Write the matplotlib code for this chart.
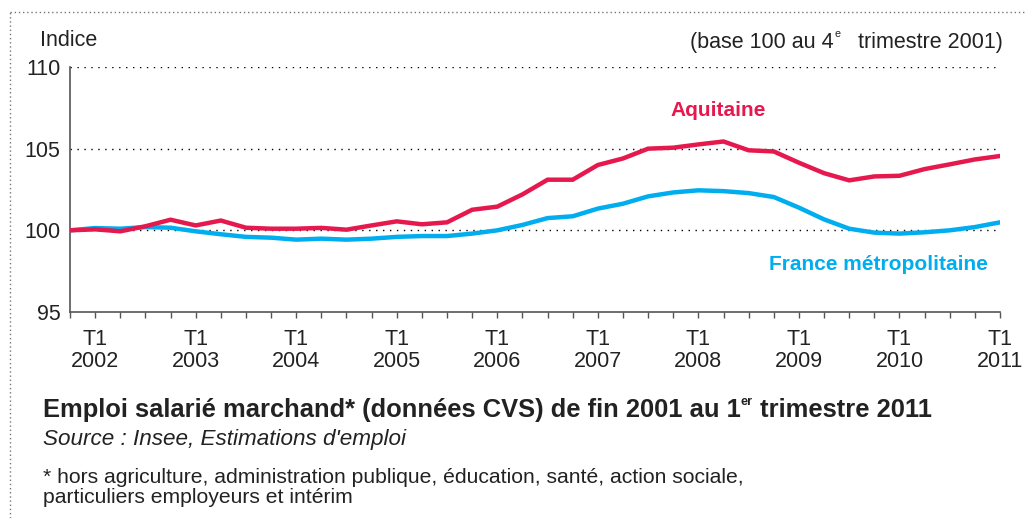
import matplotlib.pyplot as plt
from matplotlib.lines import Line2D

plt.rcParams["font.family"] = ["Liberation Sans", "DejaVu Sans"]

# trimestres : T4 2001 (base 100) a T1 2011
quarters = list(range(38))
aquitaine = [
    100.0, 100.06, 99.94, 100.25, 100.65, 100.3, 100.6, 100.16, 100.1, 100.1,
    100.15, 100.04, 100.3, 100.55, 100.37, 100.49, 101.26, 101.45, 102.2, 103.1,
    103.1, 104.0, 104.4, 105.0, 105.06, 105.26, 105.44, 104.9, 104.83, 104.14,
    103.5, 103.06, 103.3, 103.34, 103.75, 104.04, 104.34, 104.55,
]
france = [
    100.0, 100.14, 100.1, 100.2, 100.16, 99.94, 99.76, 99.6, 99.55, 99.43,
    99.49, 99.43, 99.49, 99.6, 99.65, 99.65, 99.8, 100.0, 100.33, 100.75,
    100.86, 101.33, 101.63, 102.08, 102.32, 102.45, 102.4, 102.28, 102.04, 101.39,
    100.67, 100.1, 99.86, 99.8, 99.88, 100.0, 100.2, 100.49,
]
years = ["2002", "2003", "2004", "2005", "2006", "2007", "2008", "2009", "2010", "2011"]
yticks = [95, 100, 105, 110]
footnote = [
    "* hors agriculture, administration publique, éducation, santé, action sociale,",
    "particuliers employeurs et intérim",
]

RED = "#E5194E"
BLUE = "#00AEEF"
TXT = "#222222"

fig = plt.figure(figsize=(10.27, 5.18), dpi=100)
renderer = fig.canvas.get_renderer()
ax = fig.add_axes([70 / 1027, 1 - 312 / 518, 930 / 1027, 245 / 518])


def sup_text(x, y, parts, align, **kw):
    """Texte avec exposant : parts = [(texte, taille, decalage_y_px), ...]"""
    size_main = kw.pop("fontsize")
    widths = []
    for s, fs, _ in parts:
        t = fig.text(0, 0, s, fontsize=size_main * fs, **kw)
        widths.append(t.get_window_extent(renderer).width)
        t.remove()
    W, H = fig.bbox.width, fig.bbox.height
    x0 = x * W - (sum(widths) if align == "right" else 0)
    for (s, fs, dy), w in zip(parts, widths):
        fig.text(x0 / W, y + dy / H, s, fontsize=size_main * fs, ha="left",
                 va="baseline", **kw)
        x0 += w


for y in yticks[1:]:
    ax.axhline(y, color="black", lw=1, ls=(0, (1, 4)), zorder=1)

ax.plot(quarters, france, color=BLUE, lw=3.2, solid_joinstyle="miter", zorder=3)
ax.plot(quarters, aquitaine, color=RED, lw=3.2, solid_joinstyle="miter", zorder=4)

ax.set_xlim(0, 37)
ax.set_ylim(95, 110)
ax.set_yticks(yticks)
ax.set_yticklabels([str(v) for v in yticks], fontsize=15.5, color=TXT)
ax.tick_params(axis="y", length=0, pad=7)
ax.set_xticks(quarters)
ax.set_xticklabels([])
ax.tick_params(axis="x", length=4, width=1, color="#555555", direction="out")
for s in ["top", "right"]:
    ax.spines[s].set_visible(False)
for s in ["left", "bottom"]:
    ax.spines[s].set_color("#555555")
    ax.spines[s].set_linewidth(1.2)

for k, yr in enumerate(years):
    xq = 1 + 4 * k
    ax.text(xq, -0.07, "T1\n" + yr, transform=ax.get_xaxis_transform(),
            ha="center", va="top", fontsize=15.5, color=TXT, linespacing=1.05,
            clip_on=False)

ax.text(0.697, 0.824, "Aquitaine", transform=ax.transAxes, ha="center",
        va="center", fontsize=15, fontweight="bold", color=RED)
ax.text(0.987, 0.192, "France métropolitaine", transform=ax.transAxes, ha="right",
        va="center", fontsize=15, fontweight="bold", color=BLUE)

fig.text(40 / 1027, 1 - 40 / 518, "Indice", ha="left", va="center",
         fontsize=15.5, color=TXT)
sup_text(1003 / 1027, 1 - 48 / 518,
         [("(base 100 au 4", 1, 0), ("e", 0.5, 11), ("   trimestre 2001)", 1, 0)],
         "right", fontsize=15.5, color=TXT)

sup_text(43 / 1027, 1 - 417 / 518,
         [("Emploi salarié marchand* (données CVS) de fin 2001 au 1", 1, 0),
          ("er", 0.5, 12), (" trimestre 2011", 1, 0)],
         "left", fontsize=18.4, fontweight="bold", color=TXT)
fig.text(43 / 1027, 1 - 445 / 518, "Source : Insee, Estimations d'emploi",
         ha="left", va="baseline", fontsize=16.2, style="italic", color=TXT)
for line, base in zip(footnote, [483, 503]):
    fig.text(43 / 1027, 1 - base / 518, line, ha="left", va="baseline",
             fontsize=15.2, color=TXT)

# cadre pointille
fig.add_artist(Line2D([10 / 1027, 1.0], [1 - 12 / 518] * 2, transform=fig.transFigure,
                      color="#777777", lw=1, ls=(0, (1, 2))))
fig.add_artist(Line2D([10 / 1027] * 2, [0.0, 1 - 12 / 518], transform=fig.transFigure,
                      color="#777777", lw=1, ls=(0, (1, 2))))

fig.savefig("out.png", dpi=100)
